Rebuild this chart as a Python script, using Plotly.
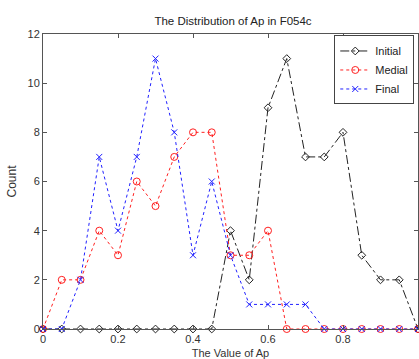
import plotly.graph_objects as go

x_values = [0.0, 0.05, 0.1, 0.15, 0.2, 0.25, 0.3, 0.35, 0.4, 0.45, 0.5,
            0.55, 0.6, 0.65, 0.7, 0.75, 0.8, 0.85, 0.9, 0.95, 1.0]
initial = [0, 0, 0, 0, 0, 0, 0, 0, 0, 0, 4, 2, 9, 11, 7, 7, 8, 3, 2, 2, 0]
medial = [0, 2, 2, 4, 3, 6, 5, 7, 8, 8, 3, 3, 4, 0, 0, 0, 0, 0, 0, 0, 0]
final = [0, 0, 2, 7, 4, 7, 11, 8, 3, 6, 3, 1, 1, 1, 1, 0, 0, 0, 0, 0, 0]

x_ticks = [0, 0.2, 0.4, 0.6, 0.8, 1.0]
x_tick_labels = ["0", "0.2", "0.4", "0.6", "0.8", "1"]
y_ticks = [0, 2, 4, 6, 8, 10, 12]

font_family = "Liberation Sans, Arial, sans-serif"

fig = go.Figure()
fig.add_trace(go.Scatter(
    x=x_values, y=initial, name="Initial", mode="lines+markers",
    line=dict(color="#222222", width=1, dash="dashdot"),
    marker=dict(symbol="diamond-open", size=6, color="#222222", line=dict(width=1)),
    cliponaxis=False,
))
fig.add_trace(go.Scatter(
    x=x_values, y=medial, name="Medial", mode="lines+markers",
    line=dict(color="#ff2020", width=1, dash="dot"),
    marker=dict(symbol="circle-open", size=7, color="#ff2020", line=dict(width=1)),
    cliponaxis=False,
))
fig.add_trace(go.Scatter(
    x=x_values, y=final, name="Final", mode="lines+markers",
    line=dict(color="#2020ff", width=1, dash="dot"),
    marker=dict(symbol="x-thin-open", size=6, color="#2020ff", line=dict(width=1, color="#2020ff")),
    cliponaxis=False,
))

fig.update_layout(
    width=419, height=359,
    margin=dict(l=43, r=0, t=34, b=27),
    paper_bgcolor="white", plot_bgcolor="white",
    font=dict(family=font_family, size=11, color="#333333"),
    title=dict(text="The Distribution of Ap in F054c", x=233 / 419, xanchor="center",
               y=1 - 21 / 359, yanchor="middle", font=dict(size=11.5, color="#222222")),
    showlegend=True,
    legend=dict(x=0.99, y=0.995, xanchor="right", yanchor="top",
                bgcolor="white", bordercolor="#444444", borderwidth=1,
                font=dict(size=11, color="#222222"),
                tracegroupgap=0, itemwidth=30),
)
fig.update_xaxes(
    range=[0, 1.0], tickvals=x_ticks, ticktext=x_tick_labels,
    ticks="inside", ticklen=4, tickcolor="#555555",
    showline=True, linecolor="#555555", linewidth=1, mirror="ticks",
    showgrid=False, zeroline=False,
    title=dict(text="The Value of Ap", standoff=6, font=dict(size=11)),
    tickfont=dict(size=11),
)
fig.update_yaxes(
    range=[0, 12], tickvals=y_ticks,
    ticks="inside", ticklen=4, tickcolor="#555555",
    showline=True, linecolor="#555555", linewidth=1, mirror="ticks",
    showgrid=False, zeroline=False,
    title=dict(text="Count", standoff=8, font=dict(size=12)),
    tickfont=dict(size=11),
)

fig.write_html(
    "out.html",
    config={"displayModeBar": False},
    post_script="document.body.style.margin='0';document.body.style.overflow='hidden';",
)
